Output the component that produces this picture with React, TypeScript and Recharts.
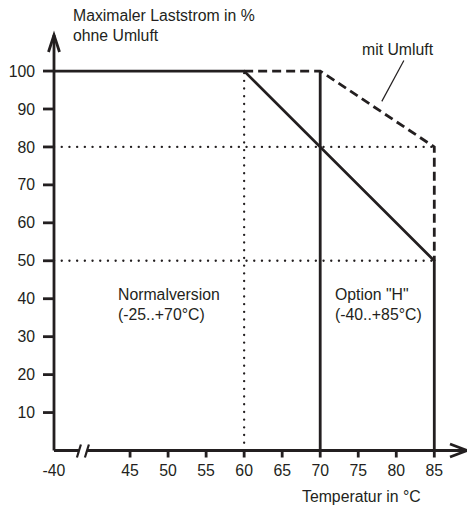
import {
  LineChart,
  Line,
  XAxis,
  YAxis,
  ReferenceDot,
  ReferenceLine,
} from 'recharts'

// x position where the broken axis starts (-40 °C is drawn here)
const BREAK_POS = 35

const xTicks = [35, 45, 50, 55, 60, 65, 70, 75, 80, 85]
const xTickLabels: Record<number, string> = { 35: '-40' }
const yTicks = [10, 20, 30, 40, 50, 60, 70, 80, 90, 100]

// temperature (°C) / load current (%)
const solidMain = [
  { t: -40, p: 100 },
  { t: 60, p: 100 },
  { t: 85, p: 50 },
  { t: 85, p: 0 },
]
const solid70 = [
  { t: 70, p: 0 },
  { t: 70, p: 100 },
]
const dashedUmluft = [
  { t: 60, p: 100 },
  { t: 70, p: 100 },
  { t: 85, p: 80 },
  { t: 85, p: 50 },
]
const dotted60 = [
  { t: 60, p: 0 },
  { t: 60, p: 100 },
]
const dotted80 = [
  { t: -40, p: 80 },
  { t: 85, p: 80 },
]
const dotted50 = [
  { t: -40, p: 50 },
  { t: 85, p: 50 },
]

const toAxis = (t: number) => (t < 45 ? BREAK_POS : t)
const prep = (d: { t: number; p: number }[]) => d.map((r) => ({ x: toAxis(r.t), y: r.p }))

const INK = '#231f20'
const FONT = '"Liberation Sans", Arial, sans-serif'
const FS = 15.8
const SW = 2.8

const X_MAX = 89.3
const Y_MAX = 109.5

const XTick = ({ x, y, payload }: any) => {
  const v = payload.value
  return (
    <g>
      {v !== BREAK_POS && (
        <line x1={x} x2={x} y1={y - 8} y2={y - 1} stroke={INK} strokeWidth={SW} />
      )}
      <text
        x={x}
        y={y + 17}
        textAnchor="middle"
        fill={INK}
        fontSize={FS}
        fontFamily={FONT}
      >
        {xTickLabels[v] ?? String(v)}
      </text>
    </g>
  )
}

const ArrowUp = ({ cx, cy }: any) => (
  <path
    d={`M${cx - 5.5},${cy + 17} L${cx},${cy} L${cx + 5.5},${cy + 17}`}
    fill="none"
    stroke={INK}
    strokeWidth={SW}
  />
)

const ArrowRight = ({ cx, cy }: any) => (
  <path
    d={`M${cx - 17},${cy - 6.5} L${cx},${cy} L${cx - 17},${cy + 6.5}`}
    fill="none"
    stroke={INK}
    strokeWidth={SW}
  />
)

const AxisBreak = ({ cx, cy }: any) => (
  <g>
    <rect x={cx - 4} y={cy - 3} width={8} height={6} fill="#fff" />
    <line x1={cx - 6} y1={cy + 7} x2={cx - 2} y2={cy - 6} stroke={INK} strokeWidth={2.2} />
    <line x1={cx + 2} y1={cy + 7} x2={cx + 6} y2={cy - 6} stroke={INK} strokeWidth={2.2} />
  </g>
)

const textStyle: React.CSSProperties = {
  position: 'absolute',
  fontFamily: FONT,
  fontSize: FS,
  lineHeight: '20px',
  color: INK,
  whiteSpace: 'nowrap',
}

export default function App() {
  return (
    <div style={{ position: 'absolute', left: 0, top: 0, width: 467, height: 506, background: '#fff' }}>
      <LineChart
        width={467}
        height={506}
        margin={{ top: 35, right: 0, left: 14, bottom: 25.5 }}
      >
        <XAxis
          type="number"
          dataKey="x"
          domain={[BREAK_POS, X_MAX]}
          ticks={xTicks}
          tick={<XTick />}
          tickLine={false}
          tickSize={8}
          tickMargin={0}
          height={30}
          axisLine={{ stroke: INK, strokeWidth: SW }}
          allowDataOverflow
        />
        <YAxis
          type="number"
          dataKey="y"
          domain={[0, Y_MAX]}
          ticks={yTicks}
          width={40}
          tickSize={11}
          tickMargin={8}
          tick={{ fill: INK, fontSize: FS, fontFamily: FONT }}
          tickLine={{ stroke: INK, strokeWidth: SW }}
          axisLine={{ stroke: INK, strokeWidth: SW }}
          allowDataOverflow
        />
        <Line data={prep(dotted60)} dataKey="y" type="linear" stroke={INK} strokeWidth={2.3} strokeDasharray="0.1 7.6" strokeLinecap="round" dot={false} isAnimationActive={false} />
        <Line data={prep(dotted80)} dataKey="y" type="linear" stroke={INK} strokeWidth={2.3} strokeDasharray="0.1 7.6" strokeLinecap="round" dot={false} isAnimationActive={false} />
        <Line data={prep(dotted50)} dataKey="y" type="linear" stroke={INK} strokeWidth={2.3} strokeDasharray="0.1 7.6" strokeLinecap="round" dot={false} isAnimationActive={false} />
        <Line data={prep(dashedUmluft)} dataKey="y" type="linear" stroke={INK} strokeWidth={SW} strokeDasharray="9 5" dot={false} isAnimationActive={false} />
        <Line data={prep(solid70)} dataKey="y" type="linear" stroke={INK} strokeWidth={SW} dot={false} isAnimationActive={false} />
        <Line data={prep(solidMain)} dataKey="y" type="linear" stroke={INK} strokeWidth={SW} dot={false} isAnimationActive={false} />
        {/* leader line for "mit Umluft" */}
        <ReferenceLine
          segment={[{ x: 78.1, y: 92 }, { x: 81, y: 102.8 }]}
          stroke={INK}
          strokeWidth={1.2}
          ifOverflow="visible"
        />
        <ReferenceDot x={38.8} y={0} r={0} shape={<AxisBreak />} ifOverflow="visible" />
        <ReferenceDot x={BREAK_POS} y={Y_MAX} r={0} shape={<ArrowUp />} ifOverflow="visible" />
        <ReferenceDot x={X_MAX} y={0} r={0} shape={<ArrowRight />} ifOverflow="visible" />
      </LineChart>
      <div style={{ ...textStyle, left: 73, top: 6 }}>
        Maximaler Laststrom in %<br />ohne Umluft
      </div>
      <div style={{ ...textStyle, left: 362, top: 40 }}>mit Umluft</div>
      <div style={{ ...textStyle, left: 118, top: 285 }}>
        Normalversion<br />(-25..+70°C)
      </div>
      <div style={{ ...textStyle, left: 335, top: 285 }}>
        Option "H"<br />(-40..+85°C)
      </div>
      <div style={{ ...textStyle, left: 302, top: 487 }}>Temperatur in °C</div>
    </div>
  )
}
